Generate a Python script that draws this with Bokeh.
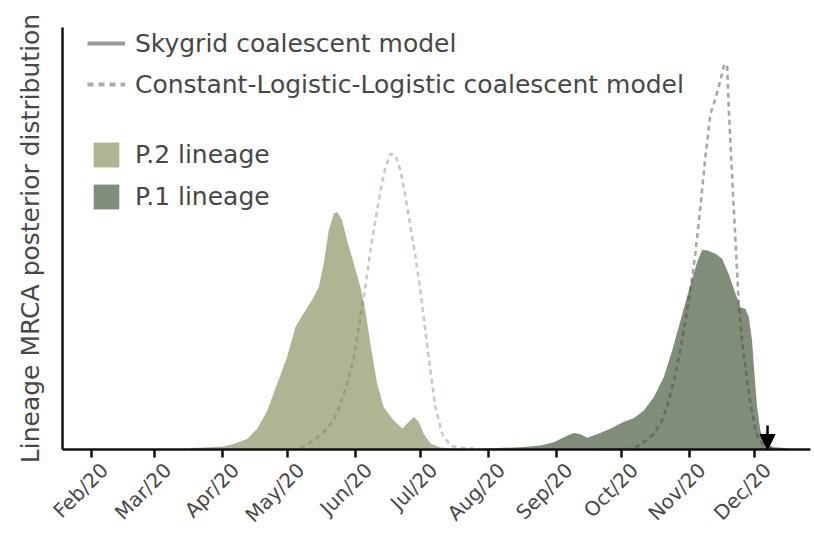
import math
import pandas as pd
from bokeh.plotting import figure
from bokeh.models import (Range1d, FixedTicker, Legend, LegendItem, Arrow,
                          NormalHead, LinearAxis)
from bokeh.embed import file_html
from bokeh.resources import INLINE

# ---------------- data ----------------
origin = pd.Timestamp("2020-02-01")
month_starts = ["2020-02-01", "2020-03-01", "2020-04-01", "2020-05-01",
                "2020-06-01", "2020-07-01", "2020-08-01", "2020-09-01",
                "2020-10-01", "2020-11-01", "2020-12-01"]
month_labels = ["Feb/20", "Mar/20", "Apr/20", "May/20", "Jun/20", "Jul/20",
                "Aug/20", "Sep/20", "Oct/20", "Nov/20", "Dec/20"]
tick_days = [(pd.Timestamp(m) - origin).days for m in month_starts]

# days since 2020-02-01 / relative posterior density
p2_sky_days = [45.4, 52.3, 60.7, 65.2, 71.4, 76.0, 80.6, 85.1, 89.7, 93.5, 97.3,
               101.9, 104.2, 106.5, 108.8, 111.1, 112.7, 114.9, 117.2, 120.3,
               123.3, 125.6, 127.9, 131.0, 134.0, 138.6, 142.5, 144.7, 147.8,
               150.1, 152.4, 155.4, 160.0, 169.2, 176.0]
p2_sky_dens = [0.35, 0.5, 0.7, 1.3, 2.5, 4.9, 9.2, 15.5, 21.9, 29.0, 32.3,
               36.1, 38.5, 44.0, 51.9, 55.9, 56.2, 54.3, 49.5, 44.0,
               38.5, 32.9, 25.0, 15.6, 10.0, 6.9, 5.0, 6.1, 7.7,
               6.5, 3.7, 1.4, 0.5, 0.1, 0.0]

p2_cll_days = [95.8, 101.9, 108.1, 112.7, 117.2, 120.3, 123.3, 125.6, 127.9,
               130.2, 132.5, 134.8, 137.1, 139.4, 141.7, 144.0, 146.3, 148.6,
               150.8, 153.1, 155.4, 157.7, 160.8, 164.6, 169.2, 178.4]
p2_cll_dens = [0.35, 2.1, 4.9, 8.5, 15.6, 21.9, 31.4, 38.5, 47.2,
               54.3, 61.4, 66.9, 70.1, 69.7, 66.1, 59.8, 52.7, 45.6,
               37.7, 28.2, 18.7, 10.0, 3.7, 0.9, 0.4, 0.1]

p1_sky_days = [179.1, 196.7, 205.9, 212.0, 216.6, 221.1, 224.2, 227.3, 231.9,
               237.9, 244.1, 248.6, 253.2, 257.8, 262.4, 266.3, 270.1, 273.9,
               277.7, 280.0, 282.3, 286.1, 289.2, 292.2, 295.3, 297.6, 299.9,
               301.4, 302.9, 304.0, 305.2, 306.7, 309.0, 312.8, 316.7, 320.5]
p1_sky_dens = [0.17, 0.55, 0.95, 1.7, 2.9, 3.9, 3.6, 2.8, 3.6,
               4.9, 6.6, 7.4, 9.2, 12.4, 17.1, 23.5, 30.6, 37.7,
               44.4, 47.3, 47.2, 46.4, 45.2, 41.6, 36.9, 33.7, 33.3,
               31.4, 25.8, 17.9, 10.0, 4.5, 1.4, 0.55, 0.4, 0.1]

p1_cll_days = [233.0, 248.6, 253.2, 257.8, 261.7, 264.7, 267.8, 270.8, 273.9,
               276.9, 279.2, 281.5, 283.8, 286.1, 288.4, 290.2, 291.5, 292.2,
               293.3, 294.5, 295.7, 296.8, 298.3, 300.6, 302.9, 305.2, 308.3,
               312.8]
p1_cll_dens = [0.0, 0.17, 1.7, 3.7, 6.9, 11.6, 17.9, 25.8, 35.3,
               46.4, 57.4, 69.3, 79.5, 83.1, 87.4, 91.4, 90.6, 81.1,
               69.3, 57.4, 45.6, 34.5, 25.8, 16.4, 8.5, 3.3, 0.95,
               0.17]

arrow_day = 310.0
arrow_len = 5.7

# ---------------- style ----------------
P2_FILL = "#adb593"
P1_FILL = "#7f8d79"
TXT = "#474747"
FONT = "DejaVu Sans"
LABEL_SHIFT = 6   # rotated month labels sit slightly right of their ticks

p = figure(width=812, height=540,
           min_border_left=62, min_border_right=2,
           min_border_top=27, min_border_bottom=91,
           x_range=Range1d(-13.3, 329.7), y_range=Range1d(0, 100),
           output_backend="svg", toolbar_location=None)
p.grid.visible = False
p.outline_line_color = None
p.background_fill_color = "white"
p.border_fill_color = "white"

# areas
r_p2 = p.varea(x=p2_sky_days, y1=0, y2=p2_sky_dens, fill_color=P2_FILL)
r_p1 = p.varea(x=p1_sky_days, y1=0, y2=p1_sky_dens, fill_color=P1_FILL)

# dashed CLL curves
p.line(p2_cll_days, p2_cll_dens, line_color="#6f7758", line_alpha=0.38,
       line_width=2.6, line_dash="5 4")
p.line(p1_cll_days, p1_cll_dens, line_color="#4a4a4a", line_alpha=0.48,
       line_width=2.6, line_dash="5 4")

# arrow
p.add_layout(Arrow(end=NormalHead(size=15, fill_color="black",
                                  line_color="black", line_width=1),
                   x_start=arrow_day, y_start=arrow_len,
                   x_end=arrow_day, y_end=0,
                   line_color="black", line_width=2.5))

# legend-only renderers (no visible data) for the two model line styles
nan = float("nan")
r_sky = p.line(x=[nan], y=[nan], line_color="#9a9a9a", line_width=4)
r_cll = p.line(x=[nan], y=[nan], line_color="#acacac", line_width=4,
               line_dash="6 5")

common = dict(border_line_color=None, background_fill_alpha=0, padding=0,
              margin=0, label_text_font=FONT, label_text_font_size="25px",
              label_text_color=TXT)
leg1 = Legend(items=[LegendItem(label="Skygrid coalescent model", renderers=[r_sky]),
                     LegendItem(label="Constant-Logistic-Logistic coalescent model",
                                renderers=[r_cll])],
              location=(25, 350), spacing=11, glyph_width=38, glyph_height=30,
              label_height=30, label_standoff=10, **common)
leg2 = Legend(items=[LegendItem(label="P.2 lineage", renderers=[r_p2]),
                     LegendItem(label="P.1 lineage", renderers=[r_p1])],
              location=(28, 237), spacing=11, glyph_width=32, glyph_height=31,
              label_height=31, label_standoff=13, **common)
p.add_layout(leg1)
p.add_layout(leg2)

# x axis: line + tick marks
p.xaxis.ticker = FixedTicker(ticks=tick_days)
p.xaxis.axis_line_width = 2.5
p.xaxis.axis_line_color = "#111111"
p.xaxis.major_tick_out = 8
p.xaxis.major_tick_in = 0
p.xaxis.major_tick_line_width = 2.5
p.xaxis.major_tick_line_color = "#111111"
p.xaxis.minor_tick_line_color = None
p.xaxis.major_label_text_color = None
p.xaxis.major_label_text_font_size = "0px"
p.xaxis.major_label_standoff = 0

# x axis: rotated month labels
label_ticks = [d + LABEL_SHIFT for d in tick_days]
lab_axis = LinearAxis(ticker=FixedTicker(ticks=label_ticks),
                      major_label_overrides={t: lab for t, lab in zip(label_ticks, month_labels)},
                      axis_line_color=None, major_tick_line_color=None,
                      minor_tick_line_color=None, major_tick_out=0, major_tick_in=0,
                      major_label_orientation=math.pi / 4,
                      major_label_standoff=9,
                      major_label_text_font=FONT,
                      major_label_text_font_size="20px",
                      major_label_text_color=TXT)
p.add_layout(lab_axis, "below")

# y axis
p.yaxis.ticker = FixedTicker(ticks=[])
p.yaxis.axis_line_width = 2.5
p.yaxis.axis_line_color = "#111111"
p.yaxis.major_tick_line_color = None
p.yaxis.minor_tick_line_color = None
p.yaxis.major_label_text_color = None
p.yaxis.major_label_text_font_size = "0px"
p.yaxis.axis_label = "Lineage MRCA posterior distribution"
p.yaxis.axis_label_text_font = FONT
p.yaxis.axis_label_text_font_size = "25px"
p.yaxis.axis_label_text_font_style = "normal"
p.yaxis.axis_label_text_color = TXT
p.yaxis.axis_label_standoff = 18

open("out.html", "w").write(file_html(p, INLINE))
